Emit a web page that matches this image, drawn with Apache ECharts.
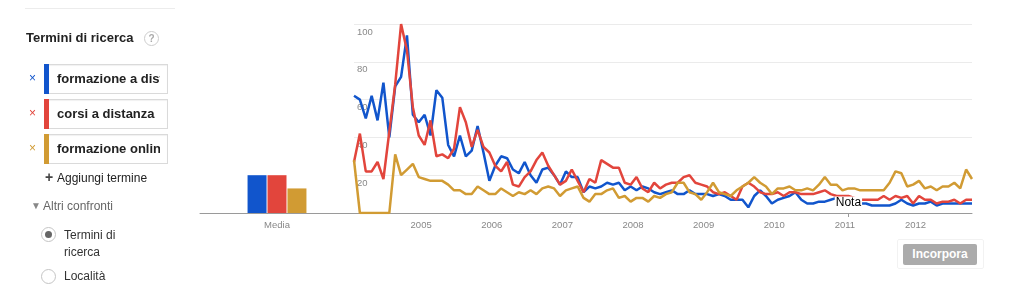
<!DOCTYPE html>
<html>
<head>
<meta charset="utf-8">
<script src="https://cdn.jsdelivr.net/npm/echarts@6/dist/echarts.min.js"></script>
<style>
  html, body { margin: 0; padding: 0; background: #fff; }
  body { width: 1020px; height: 290px; position: relative; overflow: hidden; font-family: "Liberation Sans", Arial, sans-serif; }
  #chart { position: absolute; left: 0; top: 0; width: 1020px; height: 290px; }
  .abs { position: absolute; white-space: nowrap; }
  .sep { left: 25px; top: 8px; width: 150px; height: 1px; background: #ececec; }
  .title { left: 26px; top: 30px; font-size: 13px; font-weight: bold; color: #222; line-height: 16px; }
  .help { left: 144px; top: 31px; width: 13px; height: 13px; border: 1px solid #ccc; border-radius: 50%; color: #aaa; font-size: 10px; line-height: 13px; text-align: center; font-weight: bold; }
  .x { left: 29px; font-size: 12px; line-height: 14px; }
  .box { left: 44px; width: 123px; height: 28px; border: 1px solid #dadada; border-left: none; background: #fff; box-shadow: inset 0 1px 1px rgba(0,0,0,0.06); }
  .bar { position: absolute; left: 0; top: -1px; width: 5px; height: 30px; }
  .txt { position: absolute; left: 13px; top: 6px; width: 103px; overflow: hidden; white-space: nowrap; font-size: 13px; font-weight: bold; color: #222; line-height: 16px; }
  .plain { font-size: 12px; color: #222; line-height: 15px; }
  .radio { width: 13px; height: 13px; border: 1px solid #c4c4c4; border-radius: 50%; background: #fff; }
  .dot { position: absolute; left: 3px; top: 3px; width: 7px; height: 7px; border-radius: 50%; background: #666; }
  .btnwrap { left: 897px; top: 239px; width: 85px; height: 28px; border: 1px solid #f2f2f2; border-radius: 2px; }
  .btn { left: 903px; top: 244px; width: 74px; height: 21px; background: #ababab; border-radius: 2px; color: #fff; font-size: 12px; font-weight: bold; line-height: 21px; text-align: center; }
</style>
</head>
<body>
<div id="chart"></div>

<div class="abs sep"></div>
<div class="abs title">Termini di ricerca</div>
<div class="abs help">?</div>

<div class="abs x" style="top:71px;color:#1155cc">×</div>
<div class="abs box" style="top:64px"><div class="bar" style="background:#1155cc"></div><div class="txt">formazione a distanza</div></div>
<div class="abs x" style="top:106px;color:#e2453c">×</div>
<div class="abs box" style="top:99px"><div class="bar" style="background:#e2453c"></div><div class="txt">corsi a distanza</div></div>
<div class="abs x" style="top:141px;color:#d19b33">×</div>
<div class="abs box" style="top:134px"><div class="bar" style="background:#d19b33"></div><div class="txt">formazione online</div></div>

<div class="abs plain" style="left:45px;top:170px;font-weight:bold;font-size:14px;color:#444">+</div>
<div class="abs plain" style="left:57px;top:171px">Aggiungi termine</div>
<div class="abs plain" style="left:31px;top:198px;color:#888;font-size:10px">▼</div>
<div class="abs plain" style="left:43px;top:199px;color:#666">Altri confronti</div>

<div class="abs radio" style="left:41px;top:227px"><div class="dot"></div></div>
<div class="abs plain" style="left:64px;top:227px;color:#333;line-height:17px">Termini di<br>ricerca</div>
<div class="abs radio" style="left:41px;top:269px"></div>
<div class="abs plain" style="left:64px;top:269px;color:#333">Località</div>

<div class="abs btnwrap"></div>
<div class="abs btn">Incorpora</div>

<script>
// ---- data (monthly, Jan 2004 – Oct 2012) ----
const seriesNames = ['formazione a distanza', 'corsi a distanza', 'formazione online'];
const seriesColors = ['#1155cc', '#e2453c', '#d19b33'];
const startYear = 2004;

const blue = [
  62, 60, 50, 62, 49, 69, 40, 67, 72, 94, 52, 48,
  52, 41, 65, 61, 36, 30, 41, 30, 33, 46, 32, 17,
  25, 30, 29, 23, 21, 27, 20, 16, 23, 24, 20, 15,
  22, 19, 19, 11, 14, 13, 14, 16, 15, 16, 12, 14,
  12, 14, 13, 11, 10, 11, 12, 10, 10, 12, 10, 10,
  10, 9, 10, 9, 7, 7, 7, 3, 9, 12, 9, 5,
  7, 8, 9, 11, 7, 5, 5, 6, 6, 7, 8, 8,
  6, 6, 5, 5, 4, 4, 4, 4, 5, 7, 5, 4,
  5, 5, 6, 4, 5, 5, 5, 5, 5, 5
];
const red = [
  27, 42, 22, 22, 27, 18, 43, 68, 100, 86, 56, 41,
  36, 49, 30, 31, 29, 34, 56, 48, 35, 44, 35, 32,
  25, 22, 27, 15, 14, 19, 22, 28, 32, 25, 20, 15,
  17, 23, 17, 11, 18, 16, 28, 26, 24, 24, 16, 15,
  19, 13, 11, 16, 13, 15, 16, 16, 19, 20, 16, 15,
  14, 11, 10, 11, 9, 7, 14, 16, 14, 11, 10, 10,
  11, 9, 11, 11, 10, 10, 10, 11, 12, 10, 9, 9,
  9, 8, 7, 7, 7, 7, 9, 7, 9, 8, 9, 5,
  9, 7, 7, 5, 6, 6, 7, 5, 7, 7
];
const yellow = [
  28, 0, 0, 0, 0, 0, 0, 31, 20, 23, 26, 19,
  18, 17, 17, 17, 15, 12, 12, 10, 10, 14, 12, 10,
  10, 13, 11, 9, 11, 10, 12, 10, 13, 14, 13, 9,
  12, 13, 14, 8, 6, 10, 10, 12, 13, 8, 9, 6,
  8, 8, 6, 9, 8, 10, 11, 16, 16, 11, 10, 7,
  11, 16, 11, 10, 9, 12, 14, 16, 19, 16, 14, 10,
  13, 13, 14, 12, 12, 13, 12, 15, 19, 15, 15, 12,
  13, 13, 12, 12, 12, 12, 12, 16, 22, 21, 14, 15,
  17, 13, 14, 12, 14, 14, 16, 13, 23, 18
];
const averages = [20, 20, 13];          // "Media" bars
const avgCategory = ['Media'];
const yTicks = [0, 20, 40, 60, 80, 100];
const noteLabel = 'Nota';
const noteMonth = '2011-01';
const noteValue = 5.3;

// month categories
const months = [];
for (let i = 0; i < blue.length; i++) {
  const y = startYear + Math.floor(i / 12);
  const m = (i % 12) + 1;
  months.push(y + '-' + (m < 10 ? '0' + m : m));
}
const noteIndex = months.indexOf(noteMonth);

const lineData = [blue, red, yellow];
const labelFont = { color: '#888', fontSize: 9.5, fontFamily: 'Liberation Sans, Arial, sans-serif' };

const chart = echarts.init(document.getElementById('chart'), null, { renderer: 'canvas' });

const series = [];
averages.forEach((v, i) => {
  series.push({
    name: seriesNames[i], type: 'bar', xAxisIndex: 0, yAxisIndex: 0,
    data: [v], barWidth: 19, barGap: '5%',
    itemStyle: { color: seriesColors[i] }, silent: true
  });
});
lineData.forEach((d, i) => {
  const s = {
    name: seriesNames[i], type: 'line', xAxisIndex: 1, yAxisIndex: 1,
    data: d, symbol: 'none', smooth: false,
    lineStyle: { color: seriesColors[i], width: 2.5 },
    itemStyle: { color: seriesColors[i] }, silent: true, z: 2 + i
  };
  if (i === lineData.length - 1) {
    s.markPoint = {
      symbol: 'rect', symbolSize: 0, silent: true,
      data: [{ coord: [noteIndex, noteValue] }],
      label: {
        show: true, position: 'inside', formatter: noteLabel,
        color: '#000', fontSize: 12, fontFamily: 'Liberation Sans, Arial, sans-serif',
        backgroundColor: '#fff', padding: [1, 1, 0, 1]
      }
    };
  }
  series.push(s);
});

chart.setOption({
  animation: false,
  backgroundColor: '#fff',
  grid: [
    { left: 200, right: 666, top: 24, bottom: 77 },
    { left: 354, right: 48, top: 24, bottom: 77 }
  ],
  xAxis: [
    {
      gridIndex: 0, type: 'category', data: avgCategory,
      axisLine: { lineStyle: { color: '#9a9a9a', width: 1 } },
      axisTick: { show: false },
      axisLabel: Object.assign({ margin: 7 }, labelFont)
    },
    {
      gridIndex: 1, type: 'category', data: months, boundaryGap: false,
      axisLine: { lineStyle: { color: '#9a9a9a', width: 1 } },
      axisTick: {
        show: true, length: 4, lineStyle: { color: '#9a9a9a' },
        interval: (idx) => idx === noteIndex
      },
      axisLabel: Object.assign({
        margin: 7, padding: [0, 7, 0, 0],
        interval: (idx) => idx > 0 && idx % 12 === 0,
        formatter: (v) => v.slice(0, 4)
      }, labelFont),
      splitLine: { show: false }
    }
  ],
  yAxis: [
    { gridIndex: 0, type: 'value', min: 0, max: 100, interval: 20, show: false },
    {
      gridIndex: 1, type: 'value', min: 0, max: 100, interval: 20,
      axisLine: { show: false }, axisTick: { show: false },
      axisLabel: Object.assign({
        inside: true, margin: 3, verticalAlign: 'top', padding: [3, 0, 0, 0],
        formatter: (v) => (v === 0 ? '' : String(v))
      }, labelFont),
      splitLine: { lineStyle: { color: '#ebebeb', width: 1 } }
    }
  ],
  series: series
});
</script>
</body>
</html>
